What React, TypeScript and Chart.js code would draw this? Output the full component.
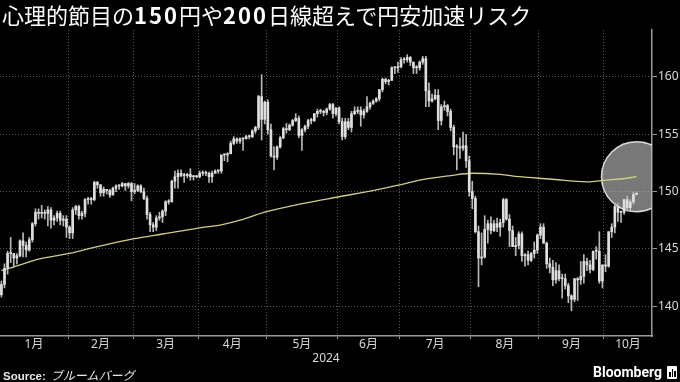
import React, { useEffect, useRef } from 'react';
import { Chart, registerables } from 'chart.js';

Chart.register(...registerables);

// Daily USD/JPY candles, 2024, one row per weekday: [open, high, low, close]
const JAN: number[][] = [
  [141.0, 142.2, 140.8, 141.9], [141.9, 143.7, 141.6, 143.3], [143.3, 144.8, 142.8, 144.6], [144.6, 146.0, 143.8, 144.6],
  [144.6, 144.6, 143.4, 144.2], [144.2, 144.6, 143.7, 144.4], [144.4, 145.8, 144.3, 145.7], [145.7, 146.4, 144.3, 145.3], [145.3, 145.6, 144.3, 144.9],
  [144.9, 146.0, 144.8, 145.8], [145.8, 147.3, 145.6, 147.2], [147.2, 148.5, 147.0, 148.2], [148.2, 148.5, 147.6, 148.1], [148.1, 148.8, 147.7, 148.1],
  [148.1, 148.4, 147.6, 148.1], [148.1, 148.7, 147.0, 148.4], [148.4, 148.6, 146.8, 147.5], [147.5, 147.9, 147.1, 147.7], [147.7, 148.3, 147.4, 148.1],
  [148.1, 148.3, 147.1, 147.5], [147.5, 147.9, 147.0, 147.6], [147.6, 147.9, 146.0, 146.9],
];
const FEB: number[][] = [
  [146.9, 147.0, 145.9, 146.4], [146.4, 148.6, 145.9, 148.4],
  [148.4, 148.8, 148.0, 148.7], [148.7, 148.8, 147.6, 147.9], [147.9, 148.3, 147.6, 148.1], [148.1, 149.4, 147.8, 149.3], [149.3, 149.5, 148.9, 149.3],
  [149.3, 149.5, 148.9, 149.3], [149.3, 150.9, 149.2, 150.8], [150.8, 150.9, 150.3, 150.6], [150.6, 150.6, 149.6, 149.9], [149.9, 150.4, 149.6, 150.2],
  [150.2, 150.2, 149.8, 150.1], [150.1, 150.2, 149.5, 149.7], [149.7, 150.4, 149.7, 150.3], [150.3, 150.6, 150.0, 150.5], [150.5, 150.6, 150.2, 150.5],
  [150.5, 150.8, 150.4, 150.7], [150.7, 150.7, 150.1, 150.5], [150.5, 150.8, 150.3, 150.7], [150.7, 150.8, 149.2, 150.0],
];
const MAR: number[][] = [
  [150.0, 150.7, 149.8, 150.1],
  [150.1, 150.6, 150.0, 150.5], [150.5, 150.6, 149.9, 150.0], [150.0, 150.3, 149.3, 149.4], [149.4, 149.6, 147.6, 148.0], [148.0, 148.2, 146.5, 147.1],
  [147.1, 147.3, 146.5, 146.9], [146.9, 147.9, 146.6, 147.7], [147.7, 148.2, 147.5, 147.8], [147.8, 148.4, 147.3, 148.3], [148.3, 149.2, 147.9, 149.1],
  [149.1, 149.3, 148.9, 149.1], [149.1, 151.0, 149.1, 150.9], [150.9, 151.8, 150.3, 151.3], [151.3, 151.9, 150.3, 151.6], [151.6, 151.9, 151.3, 151.4],
  [151.4, 151.6, 150.8, 151.4], [151.4, 151.6, 151.2, 151.5], [151.5, 152.0, 151.0, 151.3], [151.3, 151.4, 151.0, 151.3], [151.3, 151.4, 151.2, 151.3],
];
const APR: number[][] = [
  [151.3, 151.8, 151.2, 151.6], [151.6, 151.8, 151.4, 151.6], [151.6, 151.8, 151.4, 151.6], [151.6, 151.7, 150.8, 151.3], [151.3, 151.8, 150.8, 151.6],
  [151.6, 151.9, 151.6, 151.8], [151.8, 151.9, 151.6, 151.8], [151.8, 153.2, 151.6, 153.2], [153.2, 153.3, 152.7, 153.2], [153.2, 153.4, 152.6, 153.3],
  [153.3, 154.4, 153.3, 154.2], [154.2, 154.8, 154.1, 154.6], [154.6, 154.7, 154.2, 154.4], [154.4, 154.7, 154.2, 154.6], [154.6, 154.7, 153.6, 154.6],
  [154.6, 154.9, 154.6, 154.8], [154.8, 154.9, 154.6, 154.8], [154.8, 155.4, 154.7, 155.3], [155.3, 155.7, 155.1, 155.6], [155.6, 158.4, 155.4, 158.3],
  [158.3, 160.2, 154.5, 156.3], [156.3, 157.9, 155.9, 157.8],
];
const MAY: number[][] = [
  [157.8, 158.0, 155.0, 155.4], [155.4, 155.9, 153.0, 153.1], [153.1, 153.9, 151.9, 153.0],
  [153.0, 154.0, 152.8, 153.9], [153.9, 154.8, 153.8, 154.7], [154.7, 155.6, 154.6, 155.5], [155.5, 155.95, 155.1, 155.4], [155.4, 155.9, 155.3, 155.8],
  [155.8, 156.3, 155.7, 156.2], [156.2, 156.8, 156.1, 156.4], [156.4, 156.6, 154.7, 154.9], [154.9, 155.5, 153.6, 155.4], [155.4, 155.8, 155.2, 155.7],
  [155.7, 156.3, 155.5, 156.2], [156.2, 156.4, 155.9, 156.2], [156.2, 156.8, 156.1, 156.8], [156.8, 157.2, 156.5, 157.0], [157.0, 157.2, 156.8, 157.0],
  [157.0, 157.1, 156.6, 156.9], [156.9, 157.3, 156.7, 157.2], [157.2, 157.7, 157.1, 157.6], [157.6, 157.7, 156.4, 156.8], [156.8, 157.3, 156.6, 157.3],
];
const JUN: number[][] = [
  [157.3, 157.4, 155.9, 156.1], [156.1, 156.4, 154.5, 154.8], [154.8, 156.4, 154.6, 156.1], [156.1, 156.4, 155.4, 155.6], [155.6, 157.0, 155.2, 156.8],
  [156.8, 157.4, 156.7, 157.0], [157.0, 157.4, 156.8, 157.1], [157.1, 157.4, 155.7, 156.7], [156.7, 157.2, 156.4, 157.0], [157.0, 158.3, 156.9, 157.4],
  [157.4, 157.8, 157.2, 157.7], [157.7, 158.0, 157.6, 157.9], [157.9, 158.2, 157.8, 158.1], [158.1, 158.9, 157.9, 158.9], [158.9, 159.9, 158.7, 159.8],
  [159.8, 159.9, 159.4, 159.6], [159.6, 159.8, 159.3, 159.7], [159.7, 160.9, 159.7, 160.8], [160.8, 160.9, 160.3, 160.8], [160.8, 161.3, 160.4, 160.9],
];
const JUL: number[][] = [
  [160.9, 161.7, 160.8, 161.5], [161.5, 161.7, 161.2, 161.5], [161.5, 161.95, 161.3, 161.7], [161.7, 161.8, 161.0, 161.3], [161.3, 161.3, 160.3, 160.8],
  [160.8, 161.0, 160.3, 160.8], [160.8, 161.4, 160.6, 161.3], [161.3, 161.8, 161.1, 161.6], [161.6, 161.8, 157.4, 158.8], [158.8, 159.5, 157.4, 157.9],
  [157.9, 158.5, 157.8, 158.1], [158.1, 158.9, 158.0, 158.4], [158.4, 158.9, 155.4, 156.2], [156.2, 157.6, 155.8, 157.4], [157.4, 157.9, 157.1, 157.5],
  [157.5, 157.6, 156.6, 157.0], [157.0, 157.2, 155.3, 155.6], [155.6, 155.8, 153.2, 153.9], [153.9, 154.1, 151.9, 153.9], [153.9, 154.7, 152.9, 153.8],
  [153.8, 155.2, 153.6, 154.0], [154.0, 155.0, 152.1, 152.7], [152.7, 153.1, 149.6, 150.0],
];
const AUG: number[][] = [
  [150.0, 150.9, 148.5, 149.4], [149.4, 149.6, 146.4, 146.5],
  [146.5, 147.0, 141.7, 144.2], [144.2, 146.4, 143.6, 144.3], [144.3, 147.9, 144.2, 146.7], [146.7, 147.5, 145.5, 147.2], [147.2, 147.8, 146.3, 146.6],
  [146.6, 147.5, 146.5, 147.2], [147.2, 147.7, 146.5, 146.9], [146.9, 147.6, 146.1, 147.3], [147.3, 149.4, 146.9, 149.3], [149.3, 149.4, 147.5, 147.6],
  [147.6, 148.0, 145.2, 146.6], [146.6, 147.0, 145.2, 145.2], [145.2, 146.0, 144.4, 145.3], [145.3, 146.5, 145.0, 146.3], [146.3, 146.5, 143.9, 144.4],
  [144.4, 144.6, 143.5, 144.5], [144.5, 144.8, 143.6, 144.0], [144.0, 144.7, 143.9, 144.6], [144.6, 145.6, 144.2, 144.9], [144.9, 146.3, 144.6, 146.2],
];
const SEP: number[][] = [
  [146.2, 147.2, 145.9, 146.9], [146.9, 147.2, 145.5, 145.5], [145.5, 145.6, 143.3, 143.7], [143.7, 144.2, 142.9, 143.4], [143.4, 144.0, 141.8, 142.3],
  [142.3, 143.8, 142.0, 143.1], [143.1, 143.6, 142.2, 142.4], [142.4, 142.8, 140.7, 142.4], [142.4, 142.8, 141.5, 141.8], [141.8, 142.0, 140.3, 140.9],
  [140.9, 141.0, 139.6, 140.6], [140.6, 142.4, 140.4, 142.4], [142.4, 142.5, 140.5, 142.3], [142.3, 143.9, 141.9, 142.6], [142.6, 144.5, 142.0, 143.9],
  [143.9, 144.2, 143.1, 143.6], [143.6, 144.0, 142.9, 143.2], [143.2, 144.8, 143.1, 144.8], [144.8, 145.2, 144.1, 144.8], [144.8, 146.5, 142.0, 142.2],
  [142.2, 143.6, 141.6, 143.6],
];
const OCT: number[][] = [
  [143.6, 144.5, 143.0, 143.5], [143.5, 146.5, 143.4, 146.5], [146.5, 147.2, 146.0, 146.9], [146.9, 149.0, 146.4, 148.7],
  [148.7, 149.0, 147.4, 148.2], [148.2, 148.3, 147.3, 148.2], [148.2, 149.3, 148.0, 149.3], [149.3, 149.6, 148.3, 148.6], [148.6, 149.3, 148.3, 149.1],
  [149.1, 149.98, 148.9, 149.75], [149.75, 149.95, 149.7, 149.85],
];

// x = weekday count from 1 Jan 2024 (Jan 1 = 0); first candle is Jan 2
const FIRST_INDEX = 1;
const MONTH_LABELS = ['1月', '2月', '3月', '4月', '5月', '6月', '7月', '8月', '9月', '10月'];
const MONTH_START_INDEX = [0, 23, 44, 65, 87, 110, 130, 153, 175, 196];
const X_MIN = 0.55;
const X_MAX = 211;
const Y_MIN = 137.4;
const Y_MAX = 164.1;
const Y_TICKS = [140, 145, 150, 155, 160];
const YEAR_LABEL = '2024';

// 200-day moving average
const MA_INDEX = [1, 7, 13, 23, 32, 44, 53, 64, 72, 78, 86, 99, 110, 122, 130, 136, 146, 153, 162, 168, 178, 190, 196, 201, 206];
const MA_VALUE = [143.1, 143.6, 144.1, 144.6, 145.2, 145.9, 146.3, 146.8, 147.1, 147.5, 148.2, 149.0, 149.55, 150.15, 150.6, 151.0, 151.4, 151.6, 151.5, 151.3, 151.1, 150.85, 151.0, 151.1, 151.3];

// highlight circle anchor (last MA point)
const HIGHLIGHT_INDEX = 206;
const HIGHLIGHT_VALUE = 151.3;

const highlightPlugin = {
  id: 'highlightCircle',
  beforeDatasetsDraw(chart: any) {
    const { ctx, chartArea, scales } = chart;
    const cx = scales.x.getPixelForValue(HIGHLIGHT_INDEX);
    const cy = scales.y.getPixelForValue(HIGHLIGHT_VALUE);
    ctx.save();
    ctx.beginPath();
    ctx.rect(chartArea.left, chartArea.top, chartArea.right - chartArea.left, chartArea.bottom - chartArea.top);
    ctx.clip();
    ctx.beginPath();
    ctx.arc(cx, cy, 35, 0, Math.PI * 2);
    ctx.fillStyle = 'rgba(200,200,200,0.6)';
    ctx.fill();
    ctx.lineWidth = 1.5;
    ctx.strokeStyle = 'rgba(235,235,235,0.9)';
    ctx.stroke();
    ctx.restore();
  },
};

export default function App() {
  const ref = useRef<HTMLCanvasElement>(null);

  useEffect(() => {
    document.body.style.background = '#000';
    Chart.defaults.font.family = '"Noto Sans", "Noto Sans CJK JP", sans-serif';
    const ohlc = [...JAN, ...FEB, ...MAR, ...APR, ...MAY, ...JUN, ...JUL, ...AUG, ...SEP, ...OCT];
    const candles = ohlc.map((d, k) => ({ x: FIRST_INDEX + k, o: d[0], h: d[1], l: d[2], c: d[3] }));

    const boundaries = MONTH_START_INDEX.slice(1).map((v) => v - 0.5);
    const centers = MONTH_START_INDEX.map((s, m) => {
      const a = Math.max(s - 0.5, X_MIN);
      const b = m < MONTH_START_INDEX.length - 1 ? MONTH_START_INDEX[m + 1] - 0.5 : X_MAX;
      return (a + b) / 2;
    });
    const isBoundary = (v: any) => typeof v === 'number' && boundaries.some((b) => Math.abs(b - v) < 1e-6);
    const labelFor = (v: any) => {
      const m = centers.findIndex((c) => Math.abs(c - v) < 1e-6);
      return m >= 0 ? MONTH_LABELS[m] : '';
    };
    const xTickValues = [...boundaries, ...centers].sort((a, b) => a - b);

    const chart = new Chart(ref.current as HTMLCanvasElement, {
      type: 'bar',
      data: {
        datasets: [
          {
            type: 'line',
            label: '200日移動平均',
            data: MA_INDEX.map((x, k) => ({ x, y: MA_VALUE[k] })),
            borderColor: '#cfcd88',
            borderWidth: 1.3,
            pointRadius: 0,
            tension: 0.4,
            cubicInterpolationMode: 'monotone',
            order: 3,
          } as any,
          {
            type: 'bar',
            label: 'wick',
            data: candles.map((c) => ({ x: c.x, y: [c.l, c.h] })),
            backgroundColor: '#b8b8b8',
            barThickness: 1,
            grouped: false,
            order: 2,
          } as any,
          {
            type: 'bar',
            label: 'body',
            data: candles.map((c) => ({ x: c.x, y: [Math.min(c.o, c.c), Math.max(c.o, c.c)] })),
            backgroundColor: '#dedede',
            barThickness: 2,
            minBarLength: 1,
            grouped: false,
            order: 1,
          } as any,
        ],
      },
      options: {
        responsive: false,
        animation: false,
        devicePixelRatio: 1,
        layout: { padding: { top: 30, left: 0, right: 0, bottom: 16 } },
        plugins: { legend: { display: false }, tooltip: { enabled: false } },
        scales: {
          x: {
            type: 'linear',
            min: X_MIN,
            max: X_MAX,
            offset: false,
            afterBuildTicks: (s: any) => {
              s.ticks = xTickValues.map((value) => ({ value }));
            },
            afterFit: (s: any) => {
              s.height = 30;
            },
            grid: {
              offset: false,
              color: (ctx: any) => (isBoundary(ctx.tick && ctx.tick.value) ? '#555555' : 'rgba(0,0,0,0)'),
              tickColor: (ctx: any) => (isBoundary(ctx.tick && ctx.tick.value) ? '#9a9a9a' : 'rgba(0,0,0,0)'),
              tickLength: 3,
              lineWidth: 1,
              tickBorderDash: [],
            },
            border: { display: true, color: '#9a9a9a', width: 1.5, dash: [1, 2] },
            ticks: {
              autoSkip: false,
              maxRotation: 0,
              padding: 0,
              color: '#d9d9d9',
              font: { size: 12, lineHeight: 1 },
              callback: (v: any) => labelFor(v),
            },
            title: {
              display: true,
              text: YEAR_LABEL,
              color: '#d9d9d9',
              font: { size: 12, lineHeight: 1.2 },
              padding: { top: 0, bottom: 0 },
            },
          } as any,
          y: {
            type: 'linear',
            position: 'right',
            min: Y_MIN,
            max: Y_MAX,
            afterBuildTicks: (s: any) => {
              s.ticks = Y_TICKS.map((value) => ({ value }));
            },
            afterFit: (s: any) => {
              s.width = 28;
            },
            grid: { color: '#555555', tickColor: '#9a9a9a', tickLength: 5, lineWidth: 1, tickBorderDash: [] },
            border: { display: true, color: '#9a9a9a', width: 1.5, dash: [1, 2] },
            ticks: { color: '#d9d9d9', padding: 1, font: { size: 12 }, callback: (v: any) => String(v) },
          } as any,
        },
      },
      plugins: [highlightPlugin],
    });
    return () => chart.destroy();
  }, []);

  return (
    <div style={{ position: 'fixed', left: 0, top: 0, width: 680, height: 382, background: '#000', overflow: 'hidden' }}>
      <canvas ref={ref} width={680} height={382} style={{ position: 'absolute', left: 0, top: 0, width: 680, height: 382 }} />
      <div
        style={{
          position: 'absolute', left: 2, top: 0, color: '#ffffff', fontFamily: '"Noto Sans CJK JP", sans-serif',
          fontSize: 22, lineHeight: '28px', whiteSpace: 'nowrap', fontWeight: 400,
        }}
      >
        心理的節目の<span style={{ fontWeight: 700, letterSpacing: 2 }}>150</span>円や<span style={{ fontWeight: 700, letterSpacing: 2 }}>200</span>日線超えで円安加速リスク
      </div>
      <div style={{ position: 'absolute', left: 3, top: 367, color: '#e6e6e6', whiteSpace: 'nowrap', lineHeight: '15px' }}>
        <span style={{ fontFamily: '"Liberation Sans", sans-serif', fontWeight: 700, fontSize: 11.5 }}>Source:</span>
        <span style={{ fontFamily: '"Noto Sans CJK JP", sans-serif', fontStyle: 'italic', fontSize: 12, marginLeft: 5 }}>ブルームバーグ</span>
      </div>
      <div style={{ position: 'absolute', left: 593, top: 364, color: '#ffffff', fontFamily: 'Roboto, sans-serif', fontWeight: 700, fontSize: 14, lineHeight: '16px', whiteSpace: 'nowrap' }}>
        Bloomberg
      </div>
      <div style={{ position: 'absolute', left: 667, top: 366, width: 10, height: 13, background: '#ffffff', borderRadius: 1 }}>
        <div style={{ position: 'absolute', left: 2, top: 6, width: 1.5, height: 5, background: '#000' }} />
        <div style={{ position: 'absolute', left: 4.5, top: 3, width: 1.5, height: 8, background: '#000' }} />
        <div style={{ position: 'absolute', left: 7, top: 5, width: 1.5, height: 6, background: '#000' }} />
      </div>
    </div>
  );
}
